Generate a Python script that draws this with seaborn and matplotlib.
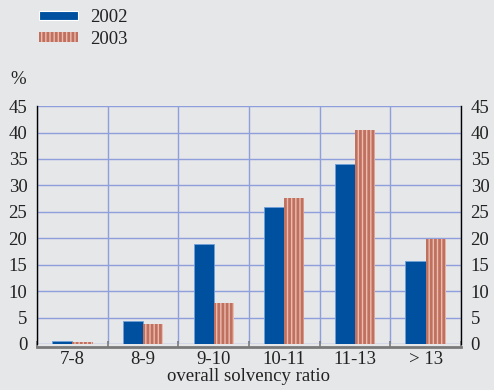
import matplotlib
matplotlib.use("Agg")
import matplotlib.pyplot as plt
import seaborn as sns
import pandas as pd
from matplotlib.patches import Patch

categories = ["7-8", "8-9", "9-10", "10-11", "11-13", "> 13"]
values_2002 = [0.5, 4.3, 19.0, 26.0, 34.0, 15.7]
values_2003 = [0.3, 3.8, 7.7, 27.7, 40.5, 19.8]
years = ["2002", "2003"]
y_ticks = list(range(0, 50, 5))

sns.set_theme(style="white")
plt.rcParams["font.family"] = ["Liberation Serif", "DejaVu Serif"]
plt.rcParams["hatch.linewidth"] = 2.0

FS = 13.5
bg = "#e6e7e9"
blue = "#0050a0"
salmon_face = "#ebbcae"
salmon_stripe = "#c0705f"
grid_col = "#8e9fdc"
text_col = "#222222"

df = pd.DataFrame({
    "category": categories * 2,
    "value": values_2002 + values_2003,
    "year": [years[0]] * len(categories) + [years[1]] * len(categories),
})

fig = plt.figure(figsize=(4.94, 3.90), dpi=100, facecolor=bg)
ax = fig.add_axes([0.075, 0.118, 0.858, 0.610], facecolor=bg)

sns.barplot(data=df, x="category", y="value", hue="year", order=categories,
            hue_order=years, palette=[blue, salmon_face], width=0.57,
            gap=0, saturation=1, legend=False, ax=ax, zorder=3)

n = len(categories)
for i, bar in enumerate(ax.patches):
    if i < n:
        bar.set_edgecolor("#6fa0d8")
        bar.set_linewidth(0.6)
    else:
        bar.set_facecolor(salmon_face)
        bar.set_edgecolor(salmon_stripe)
        bar.set_hatch("||||")
        bar.set_linewidth(0)

ax.set_xlim(-0.5, n - 0.5)
ax.set_ylim(0, 45)
ax.set_yticks(y_ticks)
ax.set_yticklabels([str(t) for t in y_ticks])
ax.set_xticks(range(n))
ax.set_xticklabels(categories)
ax.set_xticks([i - 0.5 for i in range(0, n + 1)], minor=True)

ax.grid(True, axis="y", which="major", color=grid_col, linewidth=1.0, zorder=1)
ax.grid(True, axis="x", which="minor", color=grid_col, linewidth=1.0, zorder=1)
ax.grid(False, axis="x", which="major")
ax.set_axisbelow(True)

for side in ["left", "right"]:
    ax.spines[side].set_visible(True)
    ax.spines[side].set_color("black")
    ax.spines[side].set_linewidth(1.0)
ax.spines["top"].set_visible(False)
ax.spines["bottom"].set_color("#7a7a7a")
ax.spines["bottom"].set_linewidth(2.0)
ax.spines["bottom"].set_position(("outward", 2))

ax.tick_params(axis="y", which="both", left=False, right=False, length=0,
               labelleft=True, labelright=True, labelsize=FS, pad=7,
               colors=text_col)
ax.tick_params(axis="x", which="major", bottom=False, length=0,
               labelsize=FS, pad=3, colors=text_col)
ax.tick_params(axis="x", which="minor", bottom=True, direction="in",
               length=4, width=1.2, color="#7a7a7a")

ax.set_xlabel("overall solvency ratio", fontsize=FS, color=text_col,
              labelpad=0)
ax.set_ylabel("")

fig.text(0.02, 0.785, "%", fontsize=FS, color=text_col)

handles = [
    Patch(facecolor=blue, edgecolor="white", linewidth=0.8, label=years[0]),
    Patch(facecolor=salmon_face, edgecolor=salmon_stripe, hatch="||||",
          linewidth=0, label=years[1]),
]
leg = fig.legend(handles=handles, loc="upper left",
                 bbox_to_anchor=(0.045, 1.02), frameon=False,
                 fontsize=FS, handlelength=2.1, handleheight=0.4,
                 labelspacing=0.25, handletextpad=0.6)
for t in leg.get_texts():
    t.set_color(text_col)

fig.savefig("out.png", dpi=100, facecolor=bg)
